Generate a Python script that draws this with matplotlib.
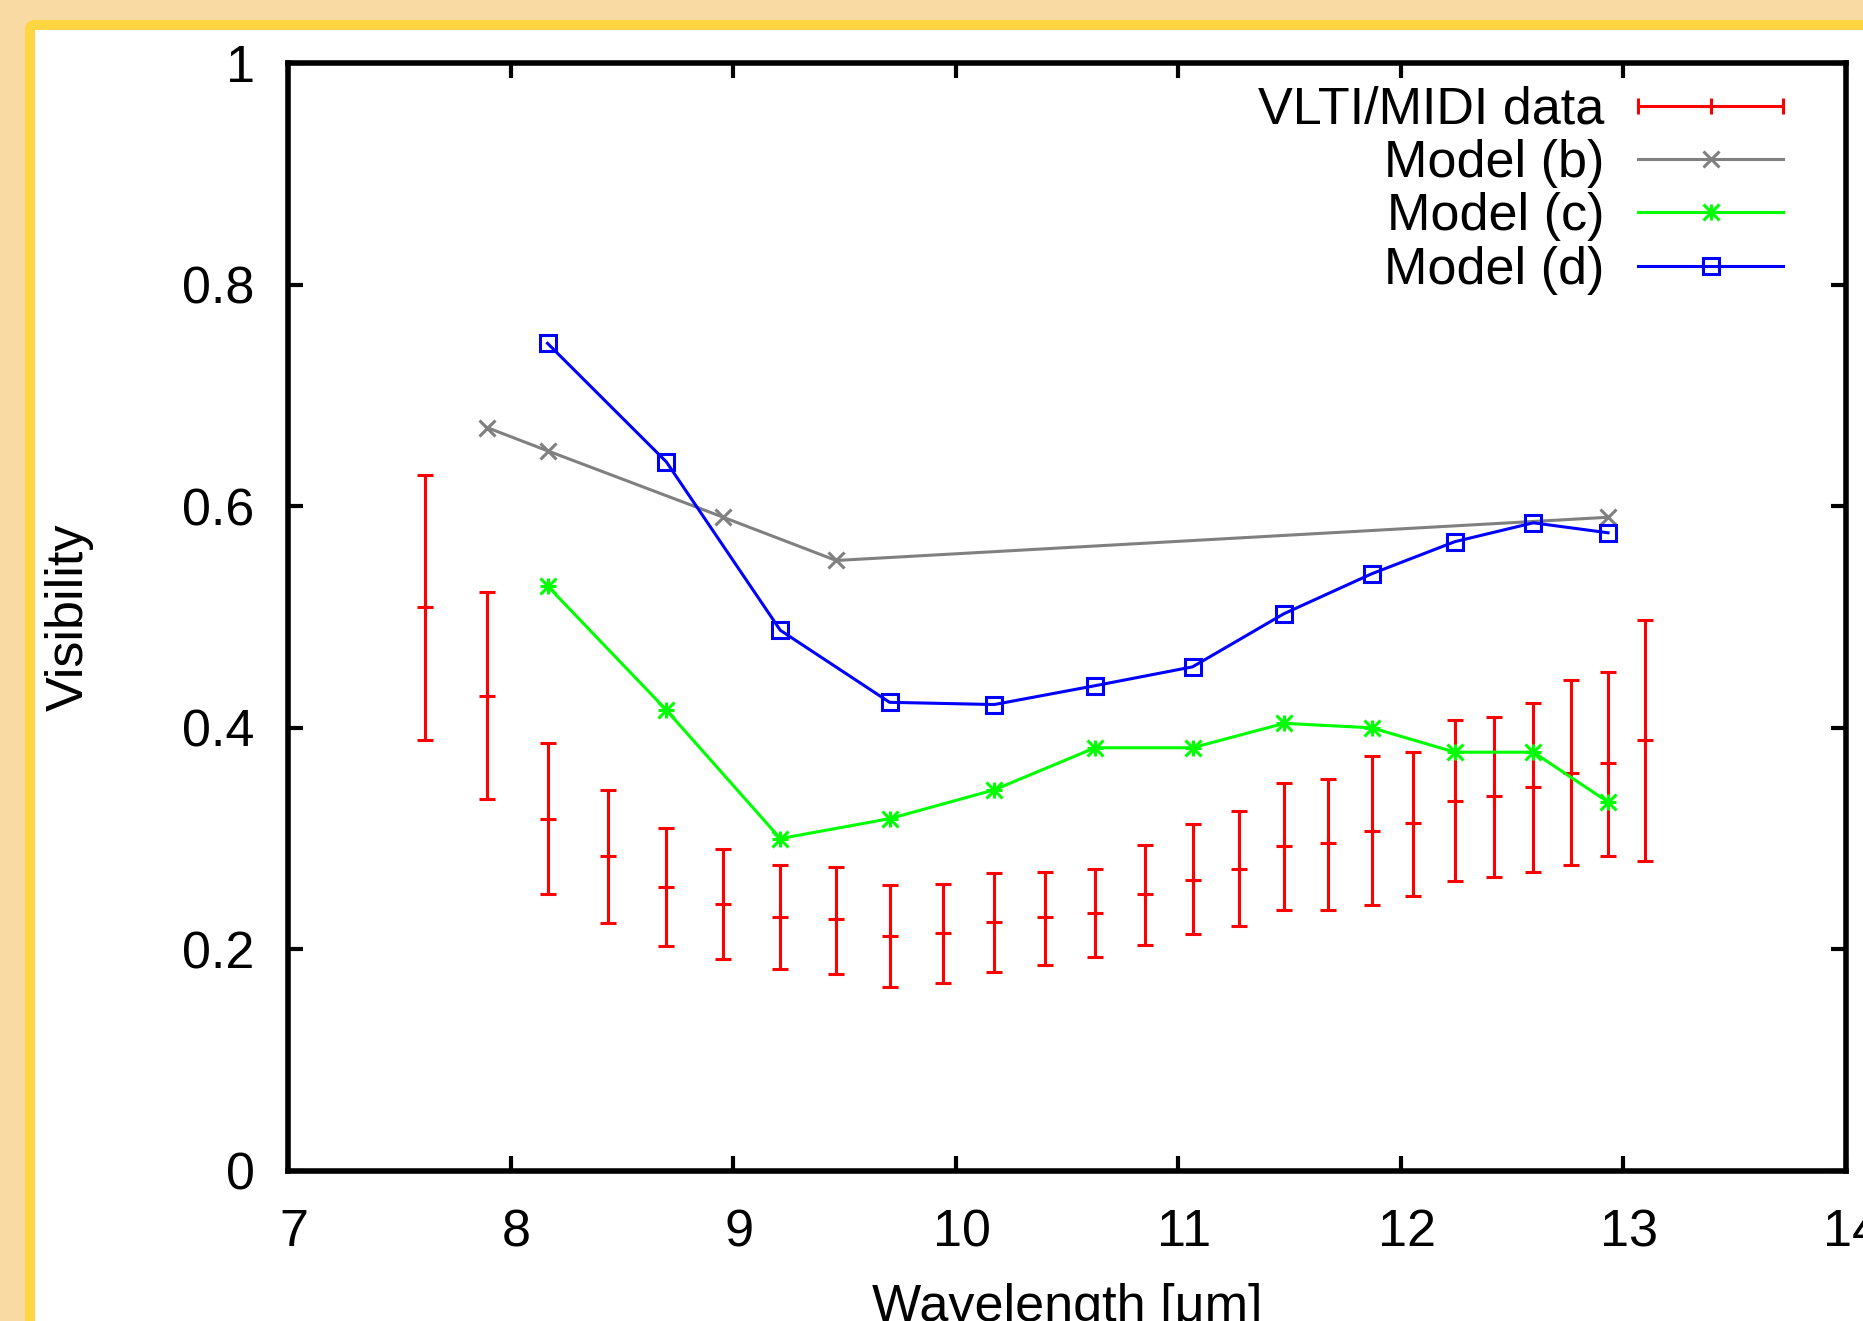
import numpy as np
import matplotlib
matplotlib.use("Agg")
import matplotlib.pyplot as plt
from matplotlib.patches import Rectangle, FancyBboxPatch
from matplotlib.transforms import IdentityTransform, ScaledTranslation

# VLTI/MIDI visibilities: wavelength, value, lower and upper end of error bar
lam_midi = [7.617, 7.894, 8.166, 8.439, 8.700, 8.956, 9.212, 9.463, 9.703, 9.943,
            10.173, 10.402, 10.626, 10.850, 11.064, 11.272, 11.475, 11.672, 11.869,
            12.056, 12.243, 12.419, 12.595, 12.766, 12.931, 13.097]
vis_midi = [0.509, 0.429, 0.318, 0.284, 0.256, 0.241, 0.229, 0.227, 0.212, 0.215,
            0.225, 0.229, 0.233, 0.250, 0.263, 0.273, 0.293, 0.296, 0.307,
            0.314, 0.334, 0.338, 0.347, 0.359, 0.368, 0.389]
vis_lo = [0.389, 0.336, 0.250, 0.224, 0.203, 0.191, 0.182, 0.178, 0.166, 0.170,
          0.180, 0.186, 0.193, 0.204, 0.214, 0.221, 0.236, 0.236, 0.240,
          0.248, 0.262, 0.265, 0.270, 0.276, 0.284, 0.280]
vis_hi = [0.628, 0.523, 0.386, 0.344, 0.310, 0.291, 0.276, 0.274, 0.258, 0.259,
          0.269, 0.270, 0.273, 0.294, 0.313, 0.325, 0.350, 0.354, 0.375,
          0.378, 0.407, 0.410, 0.422, 0.443, 0.450, 0.497]

# model (b)
lam_b = [7.894, 8.166, 8.956, 9.463, 12.931]
vis_b = [0.671, 0.650, 0.590, 0.551, 0.590]

# models (c) and (d) share the wavelength grid
lam_cd = [8.166, 8.700, 9.212, 9.703, 10.173, 10.626, 11.064, 11.475, 11.869,
          12.243, 12.595, 12.931]
vis_c = [0.528, 0.416, 0.300, 0.318, 0.344, 0.382, 0.382, 0.404, 0.400,
         0.378, 0.378, 0.333]
vis_d = [0.747, 0.640, 0.488, 0.423, 0.421, 0.438, 0.455, 0.503, 0.539,
         0.568, 0.585, 0.576]

x_ticks = [7, 8, 9, 10, 11, 12, 13, 14]
y_ticks = [0, 0.2, 0.4, 0.6, 0.8, 1]
y_ticklabels = ["0", "0.2", "0.4", "0.6", "0.8", "1"]
labels = ["VLTI/MIDI data", "Model (b)", "Model (c)", "Model (d)"]

plt.rcParams['font.family'] = ['Liberation Sans', 'DejaVu Sans']
plt.rcParams['font.size'] = 37.5

W, H = 1863, 1321
fig = plt.figure(figsize=(W / 100, H / 100), dpi=100, facecolor='#f8daa2')

# page frame: yellow border with rounded corner, white page inside
fig.add_artist(FancyBboxPatch((25, -60), W + 100, H - 20 + 60,
                              boxstyle='round,pad=0,rounding_size=10',
                              transform=IdentityTransform(), facecolor='#ffd541',
                              edgecolor='none', zorder=-3))
fig.add_artist(Rectangle((35, -60), W + 100, H - 30 + 60, transform=IdentityTransform(),
                         facecolor='white', edgecolor='none', zorder=-2))

ax = fig.add_axes([288 / W, (H - 1171) / H, 1558 / W, 1108 / H])
ax.set_facecolor('white')

red, grey, green, blue = '#ff0000', '#808080', '#00ff00', '#0000ff'
lw = 2.2

yerr = [np.array(vis_midi) - np.array(vis_lo), np.array(vis_hi) - np.array(vis_midi)]
ax.errorbar(lam_midi, vis_midi, yerr=yerr, fmt='+', color=red, ms=12, mew=lw,
            elinewidth=lw, capsize=6, capthick=lw, zorder=2)
ax.plot(lam_b, vis_b, color=grey, lw=lw, marker='x', ms=12, mew=lw, zorder=3)
ax.plot(lam_cd, vis_c, color=green, lw=lw, marker='x', ms=12, mew=lw, zorder=4)
ax.plot(lam_cd, vis_c, color=green, ls='none', marker='+', ms=12, mew=lw, zorder=4)
ax.plot(lam_cd, vis_d, color=blue, lw=lw, marker='s', ms=11, mfc='none', mew=lw, zorder=5)

ax.set_xlim(7, 14)
ax.set_ylim(0, 1)
ax.set_xticks(x_ticks)
ax.set_yticks(y_ticks)
ax.set_yticklabels(y_ticklabels)
ax.tick_params(direction='in', length=11, width=3, top=True, right=True)
ax.tick_params(axis='x', pad=27)
ax.tick_params(axis='y', pad=24)
for s in ax.spines.values():
    s.set_linewidth(4)

# gnuplot puts the x tick labels a little right of the ticks
shift = ScaledTranslation(4.3 / 72, 0, fig.dpi_scale_trans)
for t in ax.get_xticklabels():
    t.set_transform(t.get_transform() + shift)

ax.set_xlabel("Wavelength [μm]")
ax.xaxis.set_label_coords(0.5, -0.101)
ax.set_ylabel("Visibility")
ax.yaxis.set_label_coords(-0.1406, 0.5)
ax.yaxis.label.set_va('center')

# gnuplot style key: right aligned text, sample to the right
rows = [0.9612, 0.9134, 0.8655, 0.8168]
x_txt, x0, x1 = 0.8447, 0.8665, 0.9596
xm = (x0 + x1) / 2
tr = ax.transAxes
kw = dict(transform=tr, clip_on=False)
for lab, yr in zip(labels, rows):
    ax.text(x_txt, yr - 0.0162, lab, ha='right', va='baseline', transform=tr)
ax.plot([x0, x1], [rows[0]] * 2, color=red, lw=lw, **kw)
ax.plot([x0, x1], [rows[0]] * 2, color=red, ls='none', marker='|', ms=12, mew=lw, **kw)
ax.plot([xm], [rows[0]], color=red, marker='+', ms=12, mew=lw, **kw)
ax.plot([x0, x1], [rows[1]] * 2, color=grey, lw=lw, **kw)
ax.plot([xm], [rows[1]], color=grey, marker='x', ms=12, mew=lw, **kw)
ax.plot([x0, x1], [rows[2]] * 2, color=green, lw=lw, **kw)
ax.plot([xm], [rows[2]], color=green, marker='x', ms=12, mew=lw, **kw)
ax.plot([xm], [rows[2]], color=green, marker='+', ms=12, mew=lw, **kw)
ax.plot([x0, x1], [rows[3]] * 2, color=blue, lw=lw, **kw)
ax.plot([xm], [rows[3]], color=blue, marker='s', ms=11, mfc='none', mew=lw, **kw)

fig.savefig("out.png", dpi=100, facecolor=fig.get_facecolor())
